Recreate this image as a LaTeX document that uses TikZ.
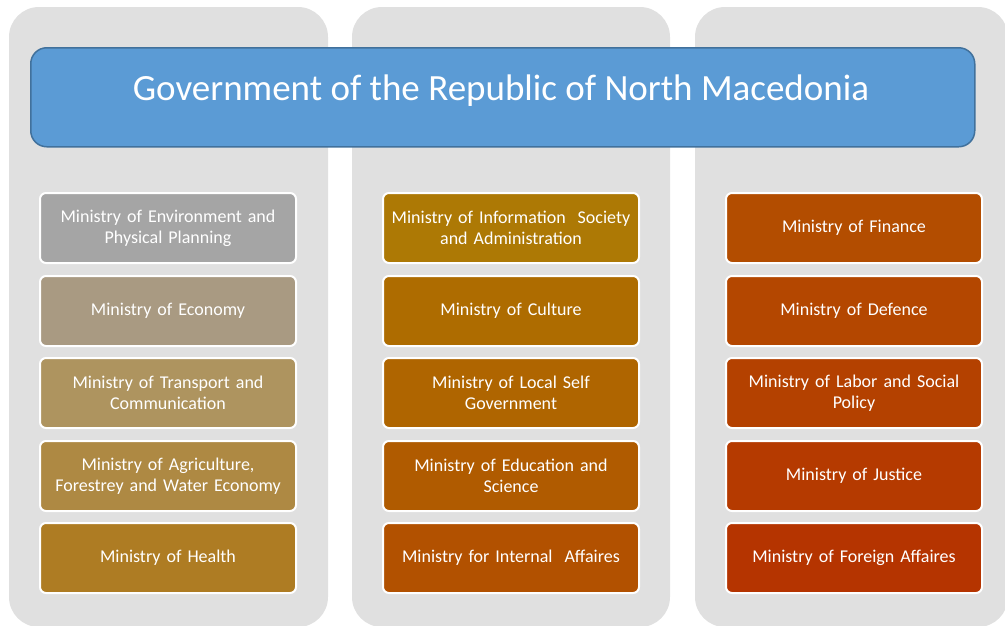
\documentclass[tikz,border=0pt]{standalone}
\usepackage{fontspec}
\setmainfont{Carlito}
\begin{document}
\begin{tikzpicture}[x=1pt,y=-1pt,
  column/.style={fill=black!12, draw=none, rounded corners=30pt},
  header/.style={fill=hdrblue, draw=hdredge, line width=1.5pt, rounded corners=16pt},
  ministry/.style={draw=white, line width=2pt, rounded corners=6pt, text=white,
    minimum width=255pt, minimum height=70pt, inner sep=2pt, align=center,
    text width=252pt, font=\fontsize{18}{21}\selectfont}]
\definecolor{hdrblue}{HTML}{5B9BD5}
\definecolor{hdredge}{HTML}{41719C}
\definecolor{cA1}{HTML}{A5A5A5}
\definecolor{cA2}{HTML}{A99A82}
\definecolor{cA3}{HTML}{AE945F}
\definecolor{cA4}{HTML}{AE8943}
\definecolor{cA5}{HTML}{AE7C23}
\definecolor{cB1}{HTML}{AD7905}
\definecolor{cB2}{HTML}{AE6C00}
\definecolor{cB3}{HTML}{AF6500}
\definecolor{cB4}{HTML}{B05B00}
\definecolor{cB5}{HTML}{B25100}
\definecolor{cC1}{HTML}{B34D00}
\definecolor{cC2}{HTML}{B44700}
\definecolor{cC3}{HTML}{B44100}
\definecolor{cC4}{HTML}{B53A00}
\definecolor{cC5}{HTML}{B53400}
\useasboundingbox (0,0) rectangle (1005,625);
% background columns
\fill[column] (9,7) rectangle (328,627);
\fill[column] (352,7) rectangle (670,627);
\fill[column] (695,7) rectangle (1008,627);
% title banner
\node[header, minimum width=944pt, minimum height=99pt, anchor=north west] (gov) at (30,47) {};
\node[text=white, font=\fontsize{37}{42}\selectfont] (govtext) at (501,91) {Government of the Republic of North Macedonia};
% left column
\node[ministry, fill=cA1] (envt) at (168,228) {Ministry of Environment and\\Physical Planning};
\node[ministry, fill=cA2] (econ) at (168,311) {Ministry of Economy};
\node[ministry, fill=cA3] (trans) at (168,393) {Ministry of Transport and\\Communication};
\node[ministry, fill=cA4] (agri) at (168,476) {Ministry of Agriculture,\\Forestrey and Water Economy};
\node[ministry, fill=cA5] (health) at (168,558) {Ministry of Health};
% middle column
\node[ministry, fill=cB1] (info) at (511,228) {Ministry of Information\ \ Society\\and Administration};
\node[ministry, fill=cB2] (cult) at (511,311) {Ministry of Culture};
\node[ministry, fill=cB3] (local) at (511,393) {Ministry of Local Self\\Government};
\node[ministry, fill=cB4] (edu) at (511,476) {Ministry of Education and\\Science};
\node[ministry, fill=cB5] (inter) at (511,558) {Ministry for Internal\ \ Affaires};
% right column
\node[ministry, fill=cC1] (fin) at (854,228) {Ministry of Finance};
\node[ministry, fill=cC2] (def) at (854,311) {Ministry of Defence};
\node[ministry, fill=cC3] (labor) at (854,393) {Ministry of Labor and Social\\Policy};
\node[ministry, fill=cC4] (just) at (854,476) {Ministry of Justice};
\node[ministry, fill=cC5] (foreign) at (854,558) {Ministry of Foreign Affaires};
\end{tikzpicture}
\end{document}
